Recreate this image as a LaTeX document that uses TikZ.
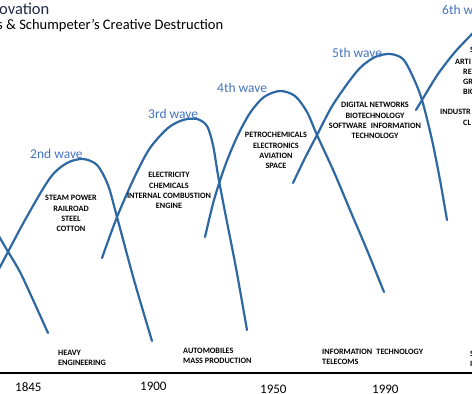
\documentclass[tikz,border=0pt]{standalone}
\usepackage{fontspec}
\setmainfont{Carlito}
\definecolor{wave}{RGB}{46,104,162}
\definecolor{wavetext}{RGB}{68,114,196}
\definecolor{titletext}{RGB}{30,42,70}
\begin{document}
\begin{tikzpicture}[x=1pt,y=-1pt,
    curve/.style={wave,line width=2.2pt,line cap=round},
    wavelabel/.style={anchor=base west,text=wavetext,inner sep=0pt,font=\fontsize{13.5}{14}\selectfont},
    techlabel/.style={align=center,inner sep=0pt,font=\bfseries\fontsize{8.2}{10.3}\selectfont},
    lowlabel/.style={anchor=west,align=left,inner sep=0pt,font=\bfseries\fontsize{8.2}{10}\selectfont},
    yearlabel/.style={anchor=base west,inner sep=0pt,font=\fontsize{13}{13}\selectfont}]
    \useasboundingbox (0,0) rectangle (472,394);
    \clip (0,0) rectangle (472,394);
    %% title
    \node[anchor=base west,inner sep=0pt,text=titletext,font=\fontsize{16.5}{17}\selectfont] (title) at (-1,14) {ovation};
    \node[anchor=base west,inner sep=0pt,font=\fontsize{14.5}{15}\selectfont] (subtitle) at (-3,29) {s \& Schumpeter’s Creative Destruction};
    %% waves
    \draw[curve] plot[smooth] coordinates {(-6,228) (0,238) (7,250) (20,272) (34,302) (48,333)};
    \draw[curve] plot[smooth] coordinates {(-6,277) (0,267) (25,220) (50,178) (67,163) (83,159) (97,165) (108,185) (117,217) (134,280) (152,341)};
    \draw[curve] plot[smooth] coordinates {(102,258) (117,217) (135,176) (150,148) (168,128) (183,120) (197,119) (207,126) (213,145) (218,175) (225,212) (236,268) (247,330)};
    \draw[curve] plot[smooth] coordinates {(205,237) (214,200) (225,166) (237,137) (250,113) (264,97) (280,91) (295,96) (307,112) (317,135) (334,172) (350,210) (367,250) (384,292)};
    \draw[curve] plot[smooth] coordinates {(293,183) (305,158) (317,135) (331,108) (345,87) (360,68) (375,57) (390,54) (403,59) (413,77) (422,100) (432,140) (440,180) (447,220)};
    \draw[curve] plot[smooth] coordinates {(416,110) (422,100) (438,74) (455,52) (472,34) (482,24)};
    %% wave names
    \node[wavelabel] (w2) at (30,158) {2nd wave};
    \node[wavelabel] (w3) at (148,118) {3rd wave};
    \node[wavelabel] (w4) at (217,92) {4th wave};
    \node[wavelabel] (w5) at (332,57) {5th wave};
    \node[wavelabel] (w6) at (442,14) {6th wave};
    %% technologies
    \node[techlabel] (t2) at (71,213.5) {STEAM POWER\\RAILROAD\\STEEL\\COTTON};
    \node[techlabel] (t3) at (169,190.5) {ELECTRICITY\\CHEMICALS\\INTERNAL COMBUSTION\\ENGINE};
    \node[techlabel] (t4) at (276,150.5) {PETROCHEMICALS\\ELECTRONICS\\AVIATION\\SPACE};
    \node[techlabel] (t5) at (375,120.5) {DIGITAL NETWORKS\\BIOTECHNOLOGY\\SOFTWARE\enspace INFORMATION\\TECHNOLOGY};
    \node[lowlabel] (t6a) at (470,50) {S};
    \node[lowlabel] (t6b) at (455,62) {ARTI};
    \node[lowlabel] (t6c) at (463,72) {RE};
    \node[lowlabel] (t6d) at (463,82) {GR};
    \node[lowlabel] (t6e) at (463,92) {BIO};
    \node[lowlabel] (t6f) at (440,112) {INDUSTR};
    \node[lowlabel] (t6g) at (463,123) {CL};
    %% lower labels
    \node[lowlabel] (l2) at (58,358) {HEAVY\\ENGINEERING};
    \node[lowlabel] (l3) at (183,356) {AUTOMOBILES\\MASS PRODUCTION};
    \node[lowlabel] (l4) at (322,356.5) {INFORMATION\enspace TECHNOLOGY\\TELECOMS};
    \node[lowlabel] (l5) at (470,359) {S\\I};
    %% time axis
    \coordinate (axl) at (-2,373);
    \coordinate (axr) at (474,373);
    \draw[line width=2.6pt] (axl) -- (axr);
    \foreach \x/\y/\yr in {15/391/1845,140/390/1900,260/393/1950,372/393/1990}
        \node[yearlabel] (y\yr) at (\x,\y) {\yr};
\end{tikzpicture}
\end{document}
